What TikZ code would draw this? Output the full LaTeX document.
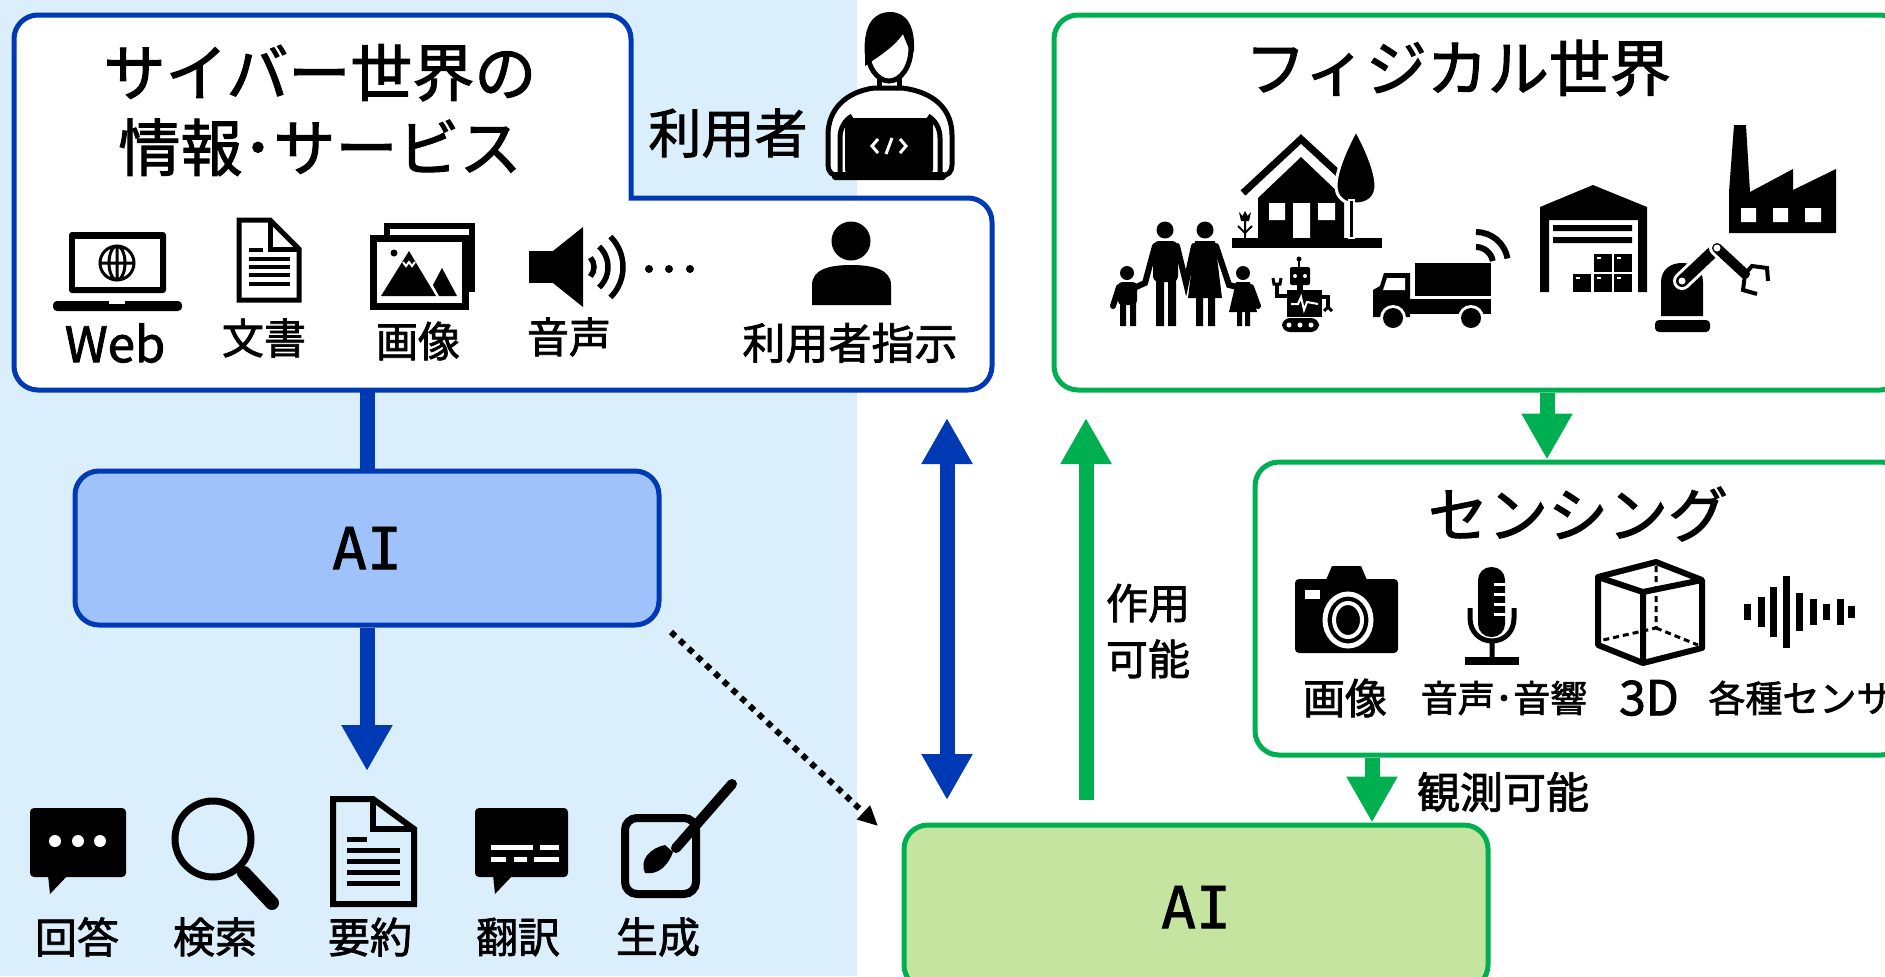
\documentclass[tikz,border=0pt]{standalone}
\usepackage{fontspec}
\setmainfont{Noto Sans CJK JP}[FakeBold=1.8]
\newfontfamily\aifont{DejaVu Sans Mono}[FakeBold=1.2]
\usetikzlibrary{positioning, arrows.meta, calc}

\definecolor{skyback}{RGB}{218,238,252}
\definecolor{cyberblue}{RGB}{0,57,180}
\definecolor{aiblue}{RGB}{160,194,250}
\definecolor{physgreen}{RGB}{0,176,80}
\definecolor{aigreen}{RGB}{197,228,160}

\begin{document}
\begin{tikzpicture}[
  x=0.5pt, y=-0.5pt,
  panel/.style={draw, line width=2.5pt, rounded corners=12pt, fill=white, inner sep=0pt},
  aibox/.style={draw, line width=2.5pt, rounded corners=12pt, minimum width=292pt,
    minimum height=77pt, font=\aifont\fontsize{29}{34}\selectfont},
  heading/.style={font=\fontsize{31}{37.5}\selectfont, align=center, inner sep=0pt},
  lbl/.style={font=\fontsize{21}{28}\selectfont, align=center, inner sep=0pt},
  small/.style={font=\fontsize{18.5}{24}\selectfont, inner sep=0pt},
  fat/.style={line width=7.5pt},
  bigtip/.style={-{Triangle[length=23pt, width=24pt]}},
  dotlink/.style={line width=3pt, dash pattern=on 3pt off 3pt, -{Triangle[length=10pt, width=9pt]}},
  outline/.style={line width=2.5pt, line join=miter}
]

\useasboundingbox (0,0) rectangle (1885,976);
\clip (0,0) rectangle (1885,976);
\fill[white] (0,0) rectangle (1885,976);
\fill[skyback] (0,0) rectangle (857,976);

% ---------- cyber side ----------
\draw[cyberblue, line width=2.5pt, fill=white]
  (14,200) -- (14,39) arc[start angle=180, end angle=270, radius=24]
  -- (607,15) arc[start angle=-90, end angle=0, radius=24]
  -- (631,198) -- (968,198) arc[start angle=-90, end angle=0, radius=24]
  -- (992,366) arc[start angle=0, end angle=90, radius=24]
  -- (38,390) arc[start angle=90, end angle=180, radius=24] -- cycle;
\coordinate (cyber-bot) at (367,390);

\node[heading] (cyber-title) at (320,110) {サイバー世界の\\情報･サービス};
\node[font=\fontsize{26.5}{30}\selectfont, inner sep=0pt] (user) at (728,133) {利用者};

% user at a laptop
\draw[outline, fill=white, line join=round] (874,88) .. controls (845,92) and (828,110) .. (828,135)
  -- (828,165) .. controls (828,172) and (832,176) .. (840,176) -- (940,176)
  .. controls (948,176) and (952,172) .. (952,165) -- (952,135)
  .. controls (952,110) and (935,92) .. (902,88) -- cycle;
\draw[line width=2.5pt] (840,172) -- (840,138) .. controls (840,128) and (845,120) .. (852,116)
  (940,172) -- (940,138) .. controls (940,128) and (935,120) .. (928,116);
\draw[line width=2.5pt] (879,78) -- (879,90) (899,78) -- (899,90);
\draw[line width=2.5pt, fill=white] (889,48) ellipse (22 and 33);
\fill (865,66) -- (865,45) .. controls (865,22) and (876,12) .. (890,12)
  .. controls (906,12) and (915,25) .. (914,50) -- (912,56)
  .. controls (908,46) and (905,40) .. (903,34) .. controls (893,48) and (879,56) .. (865,66) -- cycle;
\fill[rounded corners=2pt] (845,118) rectangle (933,174);
\fill[rounded corners=1.5pt] (832,172) rectangle (946,180);
\draw[white, line width=1.5pt] (878,139) -- (872,146) -- (878,153) (886,154) -- (892,138)
  (900,139) -- (906,146) -- (900,153);

% laptop with globe
\fill[rounded corners=1.5pt] (69,232) rectangle (166,293);
\fill[white] (75,239) rectangle (160,287);
\fill[rounded corners=2pt] (53,301) rectangle (182,311);
\fill[white] (109,301) rectangle (125,304);
\draw[line width=1.5pt] (117,263) circle (17) (117,263) ellipse (8 and 17)
  (117,246) -- (117,280) (100,263) -- (134,263);

% document
\draw[outline] (239,220) -- (270,220) -- (299,249) -- (299,300) -- (239,300) -- cycle;
\draw[outline] (270,220) -- (270,249) -- (299,249);
\fill (249,248) rectangle (263,252);
\foreach \y in {257,265,273,282}
  \fill (249,\y) rectangle (290,\y+4);

% pictures
\draw[line width=3pt, fill=white] (387,226) rectangle (472,289);
\draw[line width=3.5pt, fill=white] (373.5,238.5) rectangle (465.5,306.5);
\fill (381,296) -- (409,251) -- (436,296) -- cycle;
\fill (439,296) -- (433,285) -- (442,268) -- (457,296) -- cycle;
\draw[white, line width=1pt] (403,262) -- (406,266) -- (409,262) -- (412,266) -- (415,262);
\fill (394,253) circle (3.5);

% speaker
\fill (529,251) rectangle (553,283);
\fill (553,251) -- (583,227) -- (583,307) -- (553,283) -- cycle;
\foreach \r/\a in {14/42, 28/47, 43/45}
  \draw[line width=2.75pt] ([shift={(-\a:\r)}]580,267) arc[start angle=-\a, end angle=\a, radius=\r];
\foreach \x in {649,669,690}
  \fill (\x,269) circle (4);

% person
\fill (851,241) circle (19.5);
\fill (812,305) -- (812,285) .. controls (812,270) and (828,265) .. (851,265)
  .. controls (874,265) and (891,270) .. (891,285) -- (891,305) -- cycle;

\node[lbl, font=\fontsize{24.5}{28}\selectfont] (web) at (115,343) {Web};
\node[lbl] (doc) at (264,338) {文書};
\node[lbl] (img) at (418,341) {画像};
\node[lbl] (snd) at (569,337) {音声};
\node[lbl, font=\fontsize{21.5}{28}\selectfont] (instr) at (850,343) {利用者指示};

% ---------- cyber AI ----------
\node[aibox, draw=cyberblue, fill=aiblue] (ai1) at (367,548) {AI};
\coordinate (task-top) at (367,771);
\draw[fat, cyberblue] (cyber-bot) -- (ai1.north);
\draw[fat, bigtip, cyberblue] (ai1.south) -- (task-top);

% answer bubble
\fill[rounded corners=2pt] (30,808) rectangle (126,877);
\fill (48,875) -- (50,894) -- (68,875) -- cycle;
\foreach \x in {55,78,100}
  \fill[white] (\x,841) circle (6);
% search
\draw[line width=3.5pt] (213,839) circle (38);
\draw[line width=7pt, line cap=round] (244,873) -- (272,903);
% summary
\draw[line width=3pt] (333,799) -- (373,799) -- (414,829) -- (414,904) -- (333,904) -- cycle;
\draw[line width=3pt] (373,799) -- (373,829) -- (414,829);
\fill (347,837) rectangle (367,842);
\foreach \y in {848,859,870,881}
  \fill (347,\y) rectangle (400,\y+5);
% translation bubble
\fill[rounded corners=2pt] (475,808) rectangle (568,877);
\fill (493,875) -- (495,894) -- (513,875) -- cycle;
\draw[white, line width=2.5pt] (491,847) -- (533,847) (540,847) -- (559,847)
  (491,859) -- (506,859) (514,859) -- (527,859) (534,859) -- (559,859);
% generation
\draw[line width=4pt, rounded corners=6pt] (625,818) rectangle (696,894);
\draw[line width=5pt, line cap=round] (676,848) -- (732,784);
\fill (645,873) .. controls (639,860) and (650,848) .. (665,845) -- (673,852)
  .. controls (668,866) and (658,875) .. (645,873) -- cycle;

\node[lbl] (answer) at (77,937) {回答};
\node[lbl] (search) at (215,937) {検索};
\node[lbl] (summary) at (370,937) {要約};
\node[lbl] (translate) at (518,937) {翻訳};
\node[lbl] (generate) at (658,937) {生成};

% ---------- physical side ----------
\node[panel, draw=physgreen, minimum width=425pt, minimum height=187.5pt] (phys) at (1479,202.5) {};
\node[heading, font=\fontsize{30.5}{36}\selectfont] (phys-title) at (1458,68) {フィジカル世界};

% family
\fill (1165,230) circle (8.5) (1205,230) circle (8.5) (1127,273) circle (7) (1243,273) circle (7);
\fill[rounded corners=3pt] (1153,241) rectangle (1178,282);
\fill (1156,278) rectangle (1164,326) (1168,278) rectangle (1176,326);
\fill (1195,241) -- (1215,241) -- (1222,298) -- (1188,298) -- cycle;
\fill (1196,296) rectangle (1203,326) (1208,296) rectangle (1215,326);
\fill[rounded corners=2pt] (1118,282) rectangle (1137,305);
\fill (1120,303) rectangle (1126,326) (1130,303) rectangle (1136,326);
\fill (1236,282) -- (1250,282) -- (1257,312) -- (1229,312) -- cycle;
\fill (1237,310) rectangle (1242,326) (1245,310) rectangle (1250,326);
\draw[line width=3pt, line cap=round] (1155,246) -- (1145,283) -- (1136,287)
  (1177,246) -- (1186,283) -- (1194,246) (1216,246) -- (1229,285) -- (1237,287)
  (1119,287) -- (1113,306) (1251,287) -- (1258,306);

% house and tree
\fill (1258,238) -- (1258,198) -- (1301,157) -- (1344,198) -- (1344,238) -- cycle;
\draw[line width=3.5pt, line join=miter] (1243,193) -- (1301,139) -- (1340,175);
\fill[white] (1269,203) rectangle (1285,220) (1293,203) rectangle (1310,238) (1318,203) rectangle (1335,220);
\fill (1232,238) rectangle (1382,248);
\filldraw[draw=white, line width=1.5pt] (1356,130) .. controls (1345,150) and (1336,172) .. (1336,186)
  .. controls (1336,198) and (1345,204) .. (1356,204) .. controls (1367,204) and (1376,198) .. (1376,186)
  .. controls (1376,172) and (1367,150) .. (1356,130) -- cycle;
\fill[draw=white, line width=1pt] (1348.5,200) rectangle (1354,238);
\fill (1239,212) -- (1241,221) -- (1249,221) -- (1251,212) -- (1247.5,216) -- (1245,211) -- (1242.5,216) -- cycle;
\draw[line width=1pt] (1245,221) -- (1245,238) (1245,233) -- (1238,226) (1245,233) -- (1252,226);

% robot
\draw[line width=1pt] (1299,260) -- (1299,267);
\fill (1299,259) circle (2.5);
\fill[rounded corners=1pt] (1290,267) rectangle (1310,285);
\fill[white] (1295,276) circle (2) (1305,276) circle (2);
\fill (1297,284) rectangle (1303,291);
\fill (1287,290) rectangle (1322,317);
\draw[white, line width=1pt] (1291,304) -- (1298,304) -- (1301,297) -- (1304,310) -- (1307,302) -- (1318,304);
\draw[line width=2pt] (1287,296) -- (1277,296) -- (1277,284) (1322,297) -- (1328,297) -- (1328,307);
\draw[line width=1.5pt] (1273,278) -- (1274,284) -- (1280,284) -- (1281,278)
  (1324,311) -- (1328,307) -- (1332,311);
\fill[rounded corners=4pt] (1282,318) rectangle (1319,332);
\fill[white] (1289,325) circle (2.5) (1300,325) circle (2.5) (1311,325) circle (2.5);

% truck
\fill (1415,263) rectangle (1491,296);
\fill (1410,299) rectangle (1491,314);
\fill (1373,317) -- (1373,290) -- (1380,286) -- (1384,273) -- (1410,273) -- (1410,317) -- cycle;
\fill[white] (1387,278) -- (1405,278) -- (1405,290) -- (1383,290) -- cycle;
\foreach \x in {1393,1471} {
  \fill[white] (\x,318) circle (13);
  \fill (\x,318) circle (10);
}
\foreach \r in {17,32}
  \draw[line width=3pt] ([shift={(-90:\r)}]1476,264) arc[start angle=-90, end angle=-10, radius=\r];

% warehouse
\fill (1540,292) -- (1540,207) -- (1593,185) -- (1647,207) -- (1647,292) -- (1638,292)
  -- (1638,220) -- (1549,220) -- (1549,292) -- cycle;
\fill (1553,225) rectangle (1632,231) (1553,237) rectangle (1632,243);
\foreach \x/\y in {1594/254, 1614/254, 1573/274, 1594/274, 1614/274} {
  \fill (\x,\y) rectangle (\x+18,\y+18);
  \fill[white] (\x+3,\y+3) rectangle (\x+7,\y+5);
}

% factory
\fill (1729,233) -- (1729,192) -- (1734,125) -- (1746,125) -- (1750,192) -- (1793,169)
  -- (1793,190) -- (1836,169) -- (1836,233) -- cycle;
\fill[white] (1741,208) rectangle (1756,222) (1773,208) rectangle (1788,222) (1805,208) rectangle (1821,222);

% robot arm
\fill[rounded corners=2pt] (1655,332) -- (1655,320) -- (1710,320) -- (1710,332) -- cycle;
\fill (1661,316) -- (1661,282) .. controls (1661,270) and (1670,263) .. (1682,263)
  .. controls (1694,263) and (1703,270) .. (1703,282) -- (1703,316) -- cycle;
\draw[white, line width=9pt, line cap=round] (1682,281) -- (1717,248);
\draw[line width=6pt, line cap=round] (1682,281) -- (1717,248);
\draw[white, line width=8pt, line cap=round] (1717,248) -- (1745,274);
\draw[line width=5pt, line cap=round] (1717,248) -- (1745,274);
\fill[white] (1682,281) circle (3.5) (1717,248) circle (3.5);
\draw[line width=2pt] (1745,274) -- (1752,266) -- (1767,268) -- (1768,281)
  (1745,274) -- (1743,290) -- (1757,294);

% ---------- sensing ----------
\node[panel, draw=physgreen, minimum width=325pt, minimum height=146.5pt] (sens) at (1580,608.5) {};
\node[heading, font=\fontsize{30}{36}\selectfont] (sens-title) at (1578,514) {センシング};

% camera
\fill[rounded corners=2pt] (1295,579) rectangle (1398,653);
\fill (1326,580) -- (1332,566) -- (1361,566) -- (1367,580) -- cycle;
\fill[white] (1305,590) rectangle (1320,599);
\draw[white, line width=2.5pt] (1348,620) ellipse (23 and 26);
\draw[white, line width=2pt] (1348,620) ellipse (14 and 17);

% microphone
\fill[rounded corners=6.5pt] (1478,567) rectangle (1505,637);
\foreach \y in {583,593,603,613}
  \fill[white] (1494,\y) rectangle (1506,\y+3);
\draw[line width=2.5pt] (1470,608) -- (1470,618) .. controls (1470,632) and (1480,641) .. (1492,641)
  .. controls (1504,641) and (1514,632) .. (1514,618) -- (1514,608) (1492,641) -- (1492,658);
\fill (1465,657) rectangle (1519,665);

% 3D box
\draw[line width=3pt, line join=round] (1598,577) -- (1656,562) -- (1702,580) -- (1702,648)
  -- (1643,663) -- (1598,645) -- cycle;
\draw[line width=3pt, line join=round] (1598,577) -- (1643,592) -- (1702,580) (1643,592) -- (1643,663);
\draw[line width=1.5pt, dash pattern=on 3pt off 2pt] (1656,566) -- (1656,628) -- (1603,640)
  (1656,628) -- (1698,645);

% sound wave
\foreach \x/\h in {1747/8, 1761/15, 1773/25, 1786/36, 1799/19, 1813/13, 1826/8, 1840/13, 1851/6}
  \fill (\x-3.5,612-\h) rectangle (\x+3.5,612+\h);

\node[lbl] (cam) at (1345,698) {画像};
\node[small] (mic) at (1504,698) {音声･音響};
\node[lbl, font=\fontsize{24}{28}\selectfont] (depth) at (1649,698) {3D};
\node[small, anchor=west] (misc) at (1708,698) {各種センサ};

% ---------- physical AI and links ----------
\node[aibox, draw=physgreen, fill=aigreen, minimum height=82pt] (ai2) at (1196,907) {AI};

\coordinate (p2s) at (1547,0);
\coordinate (s2a) at (1372,0);
\draw[fat, bigtip, physgreen] (phys.south -| p2s) -- (sens.north -| p2s);
\draw[fat, bigtip, physgreen] (sens.south -| s2a) -- (ai2.north -| s2a);
\node[lbl, font=\fontsize{21.5}{28}\selectfont] (observe) at (1503,792) {観測可能};

\coordinate (act-top) at (1086,418);
\coordinate (act-bot) at (1086,800);
\draw[fat, bigtip, physgreen] (act-bot) -- (act-top);
\node[lbl, font=\fontsize{21}{28}\selectfont] (act) at (1148,631) {作用\\可能};

\coordinate (link-top) at (947,418);
\coordinate (link-bot) at (947,800);
\draw[fat, cyberblue, {Triangle[length=23pt, width=24pt]}-{Triangle[length=23pt, width=24pt]}] (link-top) -- (link-bot);

\coordinate (hand-off) at (671,632);
\coordinate (hand-on) at (878,826);
\draw[dotlink] (hand-off) -- (hand-on);

\end{tikzpicture}
\end{document}
